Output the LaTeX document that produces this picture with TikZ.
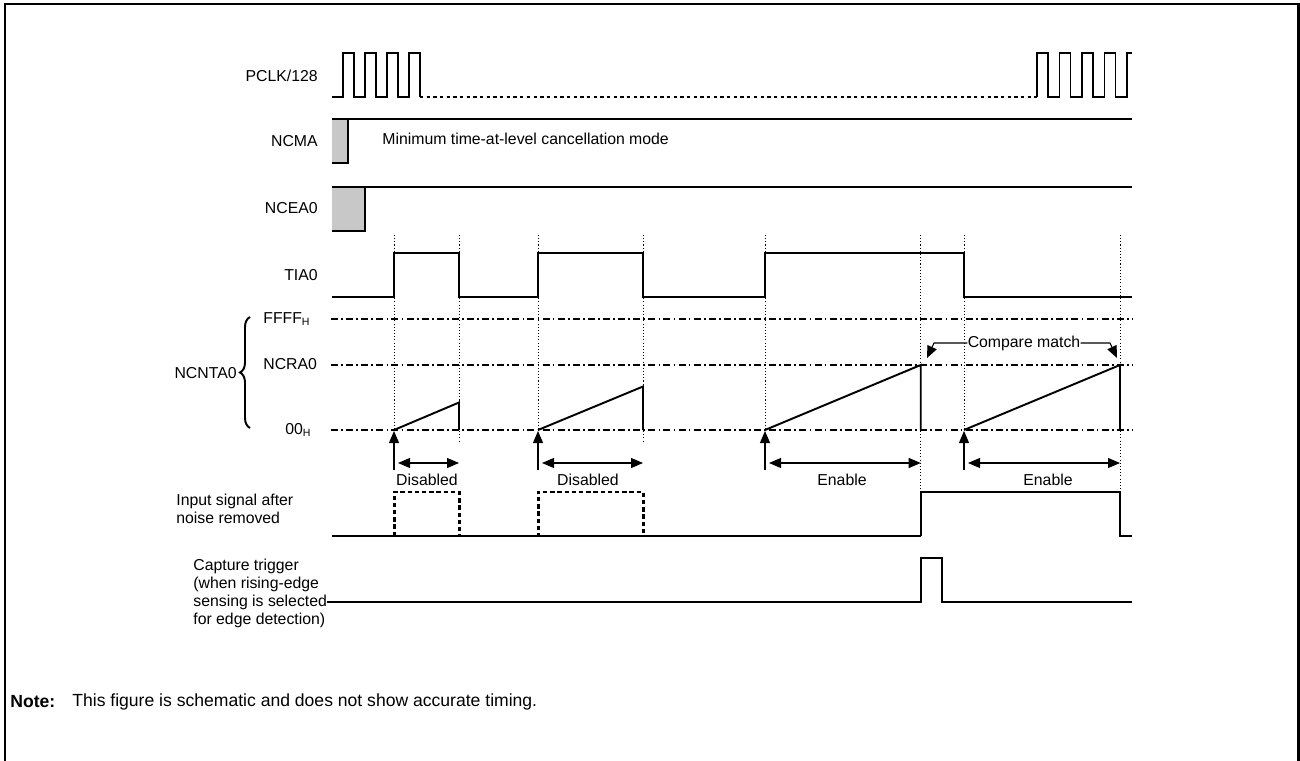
\documentclass[tikz,border=0pt]{standalone}
\usepackage{fontspec}
\setmainfont{Liberation Sans}
\usetikzlibrary{arrows.meta,decorations.pathreplacing}
\definecolor{boxgray}{RGB}{200,200,200}
\tikzset{
  sig/.style={line width=1.1pt,line join=miter},
  guide/.style={line width=0.5pt,dash pattern=on 0.6pt off 1.2pt},
  level/.style={line width=0.6pt,dash pattern=on 4pt off 1.8pt on 1pt off 1.8pt},
  ghost/.style={line width=1.7pt,dash pattern=on 2.5pt off 1.6pt},
  idle/.style={line width=1.4pt,dash pattern=on 1.9pt off 1.9pt},
  tip/.style={-{Triangle[length=0.24cm,width=0.2cm]},line width=0.6pt},
  span/.style={{Triangle[length=0.24cm,width=0.2cm]}-{Triangle[length=0.24cm,width=0.2cm]},line width=0.6pt},
  lbl/.style={font=\fontsize{9}{10.3}\selectfont,inner sep=0pt},
  notelbl/.style={font=\fontsize{10}{12}\selectfont,inner sep=0pt}
}
\begin{document}
\begin{tikzpicture}[x=0.02cm,y=-0.02cm]
            \useasboundingbox (0,0) rectangle (1300,760);
            \draw [line width=1.7pt] (5,765) -- (5,4) -- (1298,4) -- (1298,765);
            \node [lbl,anchor=east] (pclk) at (318,76) {PCLK/128};
            \node [lbl,anchor=east] (ncma) at (318,141) {NCMA};
            \node [lbl,anchor=east] (ncea) at (318,208) {NCEA0};
            \node [lbl,anchor=east] (tia) at (318,275) {TIA0};
            \node [lbl,anchor=west] (mode) at (382,139) {Minimum time-at-level cancellation mode};
            \draw [sig] (332,97) \foreach \r in {343,365,387,409} { -- (\r,97) -- (\r,53) -- (\r+11,53) -- (\r+11,97) };
            \draw [idle] (420,97) -- (1037,97);
            \draw [sig] (1037,97) \foreach \r in {1037,1059.5,1082,1104.5} { -- (\r,97) -- (\r,53) -- (\r+11,53) -- (\r+11,97) } -- (1127,97) -- (1127,53) -- (1132,53);
            \fill [boxgray] (332,119) rectangle (347.7,163);
            \draw [sig] (332,163) -- (347.7,163) -- (347.7,119);
            \draw [sig] (332,119) -- (1132,119);
            \fill [boxgray] (332,187) rectangle (365,231);
            \draw [sig] (332,231) -- (365,231) -- (365,187);
            \draw [sig] (332,187) -- (1132,187);
            \draw [sig] (332,297) -- (394,297) -- (394,253) -- (459,253) -- (459,297) -- (538,297) -- (538,253) -- (643,253) -- (643,297) -- (765,297) -- (765,253) -- (964,253) -- (964,297) -- (1132,297);
            \foreach \x/\b in {394/430,459/442,538/430,643/442,765/430,920.7/492,964/430,1120/492}
              \draw [guide] (\x,235) -- (\x,\b);
            \draw [level] (331,319) -- (1132,319);
            \draw [level] (331,365) -- (1132,365);
            \draw [level] (331,430) -- (1132,430);
            \node [lbl,anchor=west] (ffff) at (263,319) {FFFF\textsubscript{H}};
            \node [lbl,anchor=west] (ncra) at (263,364) {NCRA0};
            \node [lbl,anchor=west] (zero) at (285,430) {00\textsubscript{H}};
            \draw [sig,decorate,decoration={brace,amplitude=0.2cm}] (250,428) -- (250,317);
            \node [lbl,anchor=east] (ncnt) at (237,373) {NCNTA0};
            \draw [sig] (394,430) -- (459,402.5) -- (459,430);
            \draw [sig] (538,430) -- (643,386.5) -- (643,430);
            \draw [sig] (765,430) -- (920.7,365) -- (920.7,430);
            \draw [sig] (964,430) -- (1120,365) -- (1120,430);
            \node [lbl] (cmp) at (1024,343) {Compare match};
            \draw [tip] (cmp.west) -- (934,343) -- (927,358);
            \draw [tip] (cmp.east) -- (1110,343) -- (1117,358);
            \foreach \x in {394,538,765,964}
              \draw [tip] (\x,470) -- (\x,431);
            \draw [span] (398,463) -- (459,463);
            \draw [span] (542,463) -- (643,463);
            \draw [span] (769,463) -- (920.7,463);
            \draw [span] (968,463) -- (1120,463);
            \node [lbl] (dis1) at (427,480) {Disabled};
            \node [lbl] (dis2) at (588,480) {Disabled};
            \node [lbl] (ena1) at (842,480) {Enable};
            \node [lbl] (ena2) at (1048,480) {Enable};
            \node [lbl,anchor=west,align=left] (insig) at (176,509) {Input signal after\\noise removed};
            \draw [line width=0.6pt] (332,536) -- (920.7,536);
            \draw [sig] (332,536) -- (394,536);
            \draw [ghost] (394,536) -- (394,492) -- (459,492) -- (459,536) -- (538,536) -- (538,492) -- (643,492) -- (643,536) -- (920.7,536);
            \draw [sig] (920.7,536) -- (920.7,492) -- (1120,492) -- (1120,536) -- (1132,536);
            \node [lbl,anchor=west,align=left] (capt) at (193,593.5) {Capture trigger\\(when rising-edge\\sensing is selected\\for edge detection)};
            \draw [sig] (capt.east |- 0,602) -- (920.7,602) -- (920.7,558) -- (942,558) -- (942,602) -- (1132,602);
            \node [notelbl,anchor=west,font=\fontsize{10}{12}\selectfont\bfseries] (note) at (10,702) {Note:};
            \node [notelbl,anchor=west] (notetxt) at (72,702) {This figure is schematic and does not show accurate timing.};
          \end{tikzpicture}
\end{document}
